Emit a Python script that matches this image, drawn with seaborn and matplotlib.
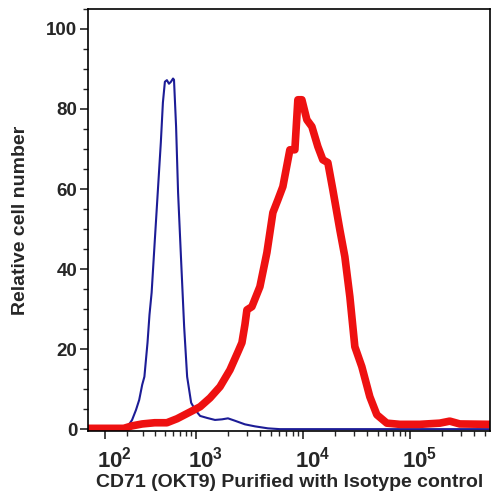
import numpy as np
import pandas as pd
import matplotlib
matplotlib.use("Agg")
import matplotlib.pyplot as plt
import matplotlib.ticker as mticker
from matplotlib.transforms import ScaledTranslation
import seaborn as sns

# アイソタイプコントロール(青)
iso_x = [42, 155, 199, 231, 255, 276, 297, 313, 337, 353, 371, 398, 427, 458, 480, 502,
         525, 550, 575, 602, 615, 644, 673, 719, 769, 821, 896, 979, 1090, 1267, 1504,
         1749, 1990, 2313, 2869, 3556, 4704, 6088, 557000]
iso_y = [0, 0, 0.2, 2.3, 4.8, 7.3, 11.1, 13.1, 21.6, 28.6, 34.1, 46.6, 59.1, 71.6, 81.6, 86.8,
         87.2, 86.3, 86.8, 87.6, 87.3, 75.6, 59.1, 42.3, 25.6, 13.1, 6.6, 4.8, 3.3, 2.8, 2.3,
         2.45, 2.7, 2.1, 1.2, 0.7, 0.2, 0, 0]

# CD71 (OKT9) 染色(赤)
cd71_x = [42, 185, 229, 297, 398, 525, 658, 877, 1090, 1351, 1676, 2078, 2468, 2689, 2869,
          2995, 3334, 3961, 4604, 5238, 5833, 6494, 7549, 8406, 8967, 9772, 10880, 12120,
          13785, 15350, 17095, 19035, 22130, 24640, 27440, 30550, 35510, 42170, 49040,
          60800, 80400, 123600, 190000, 235600, 292200, 557000]
cd71_y = [0.2, 0.2, 0.8, 1.3, 1.6, 1.6, 2.6, 4.3, 5.6, 7.8, 10.6, 14.8, 19.3, 21.6, 26.1,
          29.8, 30.6, 35.6, 44.1, 54.1, 57.3, 60.6, 69.8, 69.8, 82.3, 82.3, 77.3, 75.6,
          70.6, 67.3, 66.6, 59.8, 49.8, 43.1, 33.1, 20.6, 15.6, 8.1, 3.6,
          1.5, 1.2, 1.2, 1.5, 2.0, 1.3, 1.2]

xticks = [1e2, 1e3, 1e4, 1e5]
xticklabels = ["$10^{2}$", "$10^{3}$", "$10^{4}$", "$10^{5}$"]
yticks = [0, 20, 40, 60, 80, 100]

sns.set_style("ticks")
plt.rcParams['font.family'] = ['Liberation Sans', 'DejaVu Sans']
plt.rcParams['font.weight'] = 'bold'
plt.rcParams['mathtext.fontset'] = 'custom'
plt.rcParams['mathtext.rm'] = 'Liberation Sans:bold'
plt.rcParams['mathtext.bf'] = 'Liberation Sans:bold'
plt.rcParams['mathtext.default'] = 'bf'

iso = pd.DataFrame({"x": iso_x, "y": iso_y})
cd71 = pd.DataFrame({"x": cd71_x, "y": cd71_y})

fig = plt.figure(figsize=(4.91, 4.95), dpi=100)
ax = fig.add_axes([0.180, 0.129, 0.818, 0.853])

ax.set_xscale("asinh", linear_width=150)
sns.lineplot(data=iso, x="x", y="y", ax=ax, color="#1c1c96", linewidth=1.5, sort=False)
sns.lineplot(data=cd71, x="x", y="y", ax=ax, color="#ee1111", linewidth=5.5, sort=False)

ax.set_xlim(42, 5.6e5)
ax.set_ylim(-0.5, 105)

# x軸の目盛り (10^2より下の補助目盛りは無し)
ax.xaxis.set_major_locator(mticker.FixedLocator(xticks))
ax.xaxis.set_major_formatter(mticker.FixedFormatter(xticklabels))
minors = [m * 10 ** k for k in range(2, 6) for m in range(2, 10) if m * 10 ** k < 5.6e5]
ax.xaxis.set_minor_locator(mticker.FixedLocator(minors))
ax.xaxis.set_minor_formatter(mticker.NullFormatter())

# y軸の目盛り
ax.yaxis.set_major_locator(mticker.FixedLocator(yticks))
ax.yaxis.set_minor_locator(mticker.MultipleLocator(5))

ax.tick_params(axis="both", which="major", direction="out", length=6, width=1.2, labelsize=13.5)
ax.tick_params(axis="both", which="minor", direction="out", length=3.5, width=1)
ax.tick_params(axis="y", which="major", pad=2)
ax.tick_params(axis="x", which="major", labelsize=16, pad=5)

for s in ax.spines.values():
    s.set_linewidth(1.2)
    s.set_color("black")
    s.set_visible(True)

# 指数表記ラベルを少し右にずらす
for lbl in ax.get_xticklabels():
    lbl.set_transform(lbl.get_transform() + ScaledTranslation(7 / 72, 0, fig.dpi_scale_trans))

ax.set_xlabel("CD71 (OKT9) Purified with Isotype control", fontsize=14, fontweight="bold", labelpad=1)
ax.set_ylabel("Relative cell number", fontsize=14, fontweight="bold", labelpad=12)

fig.savefig("out.png", dpi=100)
